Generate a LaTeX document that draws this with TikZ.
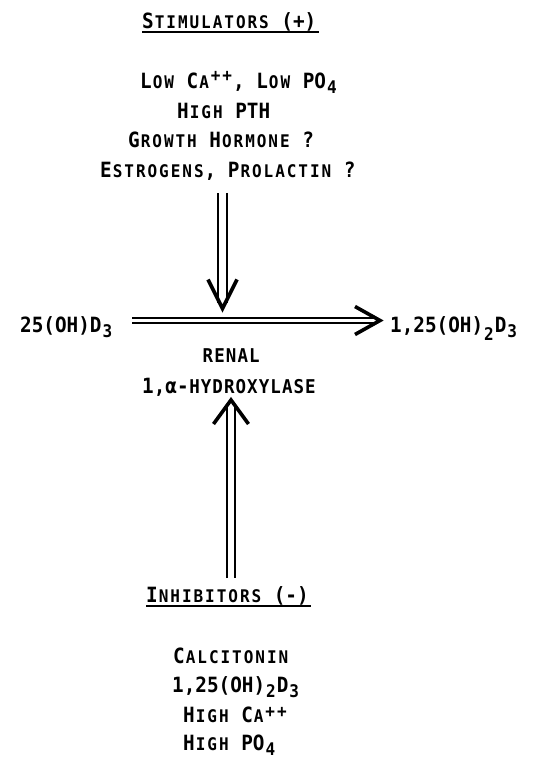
\documentclass[tikz,border=0pt]{standalone}
\usepackage{fontspec}
\setmainfont{DejaVu Sans Mono}[FakeStretch=0.92]
\usetikzlibrary{calc}

% typewriter pitch: small capitals keep the width of a full letter
\newlength{\pitch}
\setlength{\pitch}{11.6pt}
\makeatletter
\newcommand{\scsize}{17.4}
\newcommand{\sm}[1]{\sm@loop#1\@nil}
\def\sm@loop#1{\ifx#1\@nil\else
  \makebox[\pitch]{\fontsize{\scsize}{\scsize}\selectfont#1}%
  \expandafter\sm@loop\fi}
\makeatother
\newcommand{\md}[1]{{\renewcommand{\scsize}{19}\sm{#1}}}
\newcommand{\hi}[1]{\raisebox{7pt}{\sm{#1}}}
\newcommand{\lo}[1]{\raisebox{-5pt}{\sm{#1}}}
\newcommand{\lolo}[1]{\raisebox{-8pt}{\sm{#1}}}

\begin{document}
\begin{tikzpicture}[x=1pt, y=-1pt,
  txt/.style={font=\fontsize{21}{21}\selectfont\bfseries,
              inner sep=0pt, anchor=base west},
  shaft/.style={double, line width=1.6pt},
  head/.style={line width=3.6pt, line join=miter},
  uline/.style={line width=1.3pt},
]

  \useasboundingbox (0,0) rectangle (538,759);

  % === Stimulators ===
  \node[txt] (stimhd) at (142,29) {S\sm{TIMULATORS} (+)};
  \draw[uline] ($(stimhd.base west)+(0,3)$) -- ($(stimhd.base east)+(2,3)$);

  \node[txt] (s1) at (140,89) {L\sm{OW} C\sm{A}\hi{++}, L\sm{OW} PO\lo{4}};
  \node[txt] (s2) at (177,119) {H\sm{IGH} PTH};
  \node[txt] (s3) at (128,148) {G\sm{ROWTH} H\sm{ORMONE} ?};
  \node[txt] (s4) at (100,178) {E\sm{STROGENS}, P\sm{ROLACTIN} ?};

  % === Conversion ===
  \node[txt] (sub) at (20,332) {25(OH)D\lo{3}};
  \node[txt] (prod) at (390,332) {1,25(OH)\lolo{2}D\lo{3}};
  \node[txt] (renal) at (202,362) {\md{RENAL}};
  \node[txt] (hydrox) at (142,393) {1,α-\md{HYDROXYLASE}};

  \coordinate (dtop) at (222.5,193);
  \coordinate (dtip) at (222.5,308.5);
  \coordinate (hstart) at (132,320.5);
  \coordinate (htip) at (380,320.5);
  \coordinate (ubot) at (231,578);
  \coordinate (utip) at (231,400);

  \draw[shaft, double distance=7.4pt, shorten >=6pt] (dtop) -- (dtip);
  \draw[head] ($(dtip)+(-14.5,-29)$) -- (dtip) -- ($(dtip)+(14.5,-29)$);

  \draw[shaft, double distance=3.4pt, shorten >=3pt] (hstart) -- (htip);
  \draw[head] ($(htip)+(-25,-14)$) -- (htip) -- ($(htip)+(-25,14)$);

  \draw[shaft, double distance=6.4pt, shorten >=4pt] (ubot) -- (utip);
  \draw[head] ($(utip)+(-17.5,24)$) -- (utip) -- ($(utip)+(17.5,24)$);

  % === Inhibitors ===
  \node[txt] (inhhd) at (146,602) {I\sm{NHIBITORS} (-)};
  \draw[uline] ($(inhhd.base west)+(0,4)$) -- ($(inhhd.base east)+(2,4)$);

  \node[txt] (i1) at (173,663) {C\sm{ALCITONIN}};
  \node[txt] (i2) at (172,692) {1,25(OH)\lo{2}D\lo{3}};
  \node[txt] (i3) at (183,722) {H\sm{IGH} C\sm{A}\raisebox{5pt}{\sm{++}}};
  \node[txt] (i4) at (183,750) {H\sm{IGH} PO\lo{4}};

\end{tikzpicture}
\end{document}
